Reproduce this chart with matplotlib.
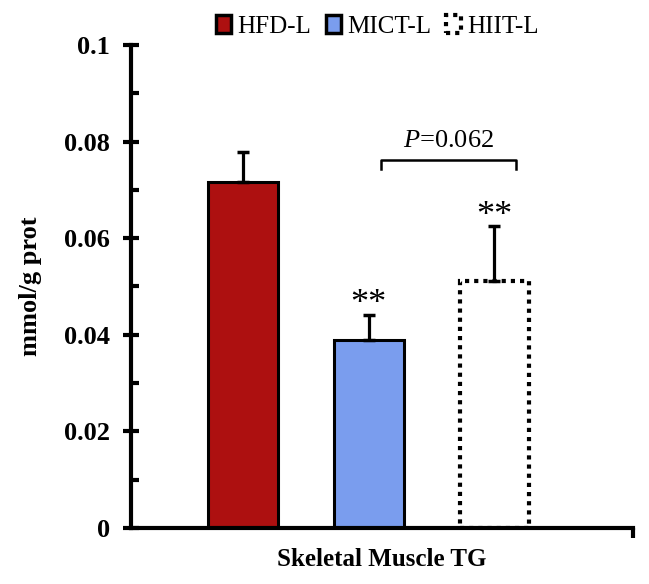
import numpy as np
import matplotlib
matplotlib.use("Agg")
import matplotlib.pyplot as plt
from matplotlib.patches import Patch
from matplotlib.ticker import MultipleLocator

groups = ["HFD-L", "MICT-L", "HIIT-L"]
means = [0.0716, 0.0389, 0.0511]
errs = [0.0062, 0.0052, 0.0114]
stars = ["", "**", "**"]
p_text = "=0.062"
colors = ["#AD1010", "#7A9DEE", "white"]

plt.rcParams["font.family"] = ["Liberation Serif", "DejaVu Serif"]
plt.rcParams["mathtext.fontset"] = "custom"
plt.rcParams["mathtext.it"] = "Liberation Serif:italic"
plt.rcParams["mathtext.rm"] = "Liberation Serif"

fig = plt.figure(figsize=(6.49, 5.84), dpi=100)
ax = fig.add_axes([0.202, 0.096, 0.773, 0.827])

x = np.arange(len(groups))
w = 0.555
bars = ax.bar(x, means, width=w, color=colors, edgecolor="black", linewidth=2.2, zorder=2)
bars[2].set_linestyle((0, (1, 1.2)))
bars[2].set_linewidth(3)
ax.errorbar(x, means, yerr=[np.zeros(3), errs], fmt="none", ecolor="black",
            elinewidth=2.3, capsize=4.5, capthick=2.5, zorder=3)

for xi, m, e, s in zip(x, means, errs, stars):
    if s:
        ax.text(xi, m + e + 0.0003, s, ha="center", va="baseline", fontsize=26)

# bracket between MICT and HIIT
yb = 0.0762
xl, xr = x[1] + 0.1, x[2] + 0.17
ax.plot([xl, xl, xr, xr], [yb - 0.0018, yb, yb, yb - 0.0018], color="black", lw=1.8)
ax.text((xl + xr) / 2, yb + 0.0016, r"$\it{P}$" + p_text, ha="center",
        va="bottom", fontsize=19)

ax.set_xlim(-0.89, 3.1)
ax.set_ylim(0, 0.1)
ax.yaxis.set_minor_locator(MultipleLocator(0.01))
ax.set_yticks([0, 0.02, 0.04, 0.06, 0.08, 0.1])
ax.set_yticklabels(["0", "0.02", "0.04", "0.06", "0.08", "0.1"])
ax.set_xticks([3.1])
ax.set_xticklabels([""])
ax.tick_params(axis="x", direction="out", length=7, width=3)
ax.tick_params(axis="y", which="major", direction="inout", length=12, width=3, labelsize=19, pad=9)
ax.tick_params(axis="y", which="minor", direction="in", length=6, width=3)
for lbl in ax.get_yticklabels():
    lbl.set_fontweight("bold")

for sp in ["top", "right"]:
    ax.spines[sp].set_visible(False)
for sp in ["left", "bottom"]:
    ax.spines[sp].set_linewidth(3)

ax.set_ylabel("mmol/g prot", fontsize=19, fontweight="bold", labelpad=16)
ax.set_xlabel("Skeletal Muscle TG", fontsize=18, fontweight="bold", labelpad=4)

handles = [Patch(facecolor=colors[0], edgecolor="black", linewidth=2.5),
           Patch(facecolor=colors[1], edgecolor="black", linewidth=2.5),
           Patch(facecolor="white", edgecolor="black", linewidth=3, linestyle=(0, (1, 1.2)))]
fig.legend(handles, groups, loc="center", bbox_to_anchor=(0.582, 0.955), ncol=3,
           frameon=False, fontsize=18, handlelength=0.6, handleheight=0.75,
           handletextpad=0.25, columnspacing=0.6)

fig.savefig("out.png", dpi=100)
